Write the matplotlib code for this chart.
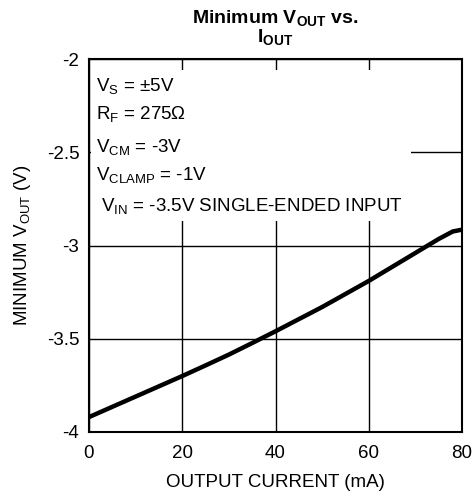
import matplotlib
matplotlib.use('Agg')
import matplotlib.pyplot as plt
from matplotlib.patches import Rectangle

plt.rcParams['font.family'] = ['Liberation Sans', 'DejaVu Sans']
plt.rcParams['mathtext.fontset'] = 'custom'
plt.rcParams['mathtext.rm'] = 'Liberation Sans'
plt.rcParams['mathtext.bf'] = 'Liberation Sans:bold'

# --- Data ---
iout_ma = [0, 5, 10, 15, 20, 25, 30, 35, 40, 45, 50, 55, 60, 65, 70, 75, 78, 80]
vout_min = [-3.92, -3.865, -3.81, -3.755, -3.70, -3.643, -3.585, -3.523, -3.46, -3.395, -3.33, -3.26, -3.19, -3.115, -3.04, -2.965, -2.925, -2.915]
x_ticks = [0, 20, 40, 60, 80]
y_ticks = [-4, -3.5, -3, -2.5, -2]
y_labels = ['-4', '-3.5', '-3', '-2.5', '-2']
notes = [r'V$_{\mathregular{S}}$ = ±5V',
         r'R$_{\mathregular{F}}$ = 275Ω',
         r'V$_{\mathregular{CM}}$ = -3V',
         r'V$_{\mathregular{CLAMP}}$ = -1V',
         r' V$_{\mathregular{IN}}$ = -3.5V SINGLE-ENDED INPUT']
note_y = [-2.15, -2.30, -2.475, -2.625, -2.795]

fig = plt.figure(figsize=(4.75, 4.91), dpi=100)
ax = fig.add_axes([89/475, 1 - 432/491, 373/475, 373/491])

ax.plot(iout_ma, vout_min, color='black', lw=3.2, zorder=5)
ax.set_xlim(0, 80)
ax.set_ylim(-4, -2)
ax.set_xticks(x_ticks)
ax.set_yticks(y_ticks)
ax.set_yticklabels(y_labels)
ax.tick_params(length=0, labelsize=13.5)
ax.tick_params(axis='x', pad=9)
ax.tick_params(axis='y', pad=7)
ax.grid(True, color='black', lw=1)
for s in ax.spines.values():
    s.set_linewidth(1.5)

# white box behind the notes, cuts the grid lines
ax.add_patch(Rectangle((0.005, 0.565), 0.858, 0.405, transform=ax.transAxes,
                       facecolor='white', edgecolor='none', zorder=3))
for t, y in zip(notes, note_y):
    ax.text(1.5, y, t, fontsize=13.5, va='center', ha='left', zorder=4)

ax.set_xlabel('OUTPUT CURRENT (mA)', fontsize=13.5, labelpad=9)
ax.set_ylabel(r'MINIMUM V$_{\mathregular{OUT}}$ (V)', fontsize=13.5, labelpad=10)
ax.set_title('Minimum V$_{\\mathbf{OUT}}$ vs.\nI$_{\\mathbf{OUT}}$', fontsize=14,
             fontweight='bold', linespacing=0.9, pad=12)

fig.savefig('out.png', dpi=100)
